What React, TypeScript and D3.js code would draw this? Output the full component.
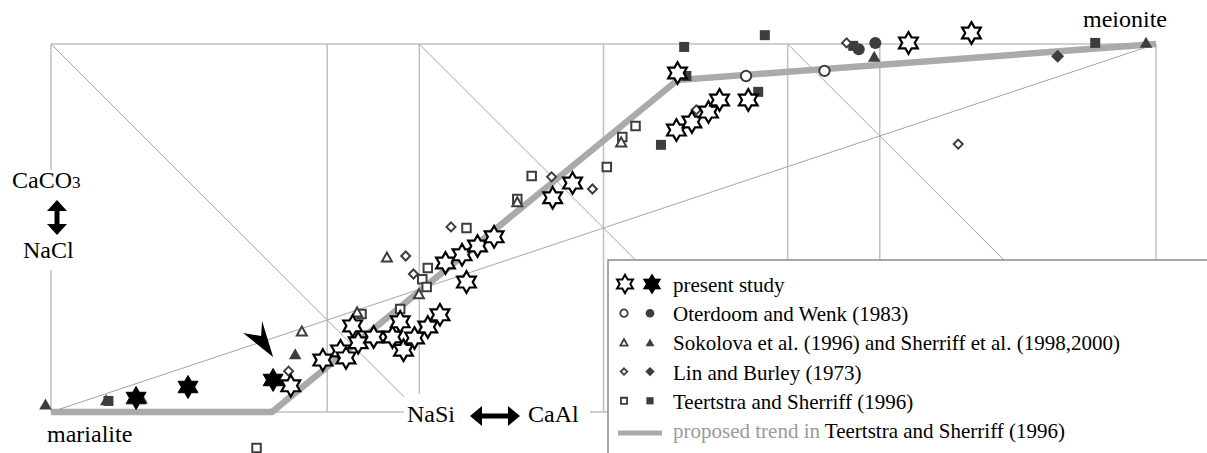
import React from 'react';
import * as d3 from 'd3';

// ---- data (fractions of the NaSi→CaAl (x) and NaCl→CaCO3 (y) frame) ----
const xGrid = [0, 1 / 4, 1 / 3, 1 / 2, 2 / 3, 3 / 4, 1];
const diagonals: [number, number, number, number][] = [
  [0, 1, 1 / 3, 0],
  [1 / 3, 1, 2 / 3, 0],
  [2 / 3, 1, 1, 0],
  [0, 0, 1, 1],
];
const trend: [number, number][] = [[0, 0], [0.2, 0], [0.567, 0.902], [1, 1]];

const starOpen: [number, number][] = [
  [0.217, 0.071], [0.246, 0.141], [0.262, 0.166], [0.267, 0.147], [0.273, 0.234],
  [0.278, 0.188], [0.292, 0.204], [0.309, 0.204], [0.316, 0.245], [0.319, 0.168],
  [0.329, 0.201], [0.341, 0.231], [0.352, 0.264], [0.357, 0.405], [0.372, 0.427],
  [0.386, 0.451], [0.401, 0.476], [0.376, 0.353], [0.454, 0.582], [0.472, 0.622],
  [0.567, 0.921], [0.566, 0.766], [0.580, 0.788], [0.595, 0.815], [0.605, 0.848],
  [0.631, 0.848], [0.776, 1.003], [0.833, 1.030],
];
const starFilled: [number, number][] = [[0.077, 0.038], [0.124, 0.068], [0.201, 0.087]];

const circleOpen: [number, number][] = [[0.629, 0.913], [0.700, 0.927]];
const circleFilled: [number, number][] = [[0.731, 0.986], [0.746, 1.003]];

const triOpen: [number, number][] = [
  [0.227, 0.220], [0.277, 0.272], [0.304, 0.421], [0.333, 0.321], [0.422, 0.571], [0.516, 0.734],
];
const triFilled: [number, number][] = [
  [-0.005, 0.022], [0.050, 0.033], [0.082, 0.038], [0.221, 0.158], [0.745, 0.967], [0.991, 1.005],
];

const diaOpen: [number, number][] = [
  [0.215, 0.111], [0.300, 0.204], [0.321, 0.424], [0.328, 0.375], [0.362, 0.503],
  [0.453, 0.639], [0.490, 0.606], [0.584, 0.821], [0.720, 1.003], [0.821, 0.728],
];
const diaFilled: [number, number][] = [[0.911, 0.967]];

const sqOpen: [number, number][] = [
  [0.186, -0.098], [0.281, 0.266], [0.316, 0.280], [0.336, 0.361], [0.341, 0.391],
  [0.340, 0.340], [0.376, 0.500], [0.422, 0.579], [0.435, 0.641], [0.503, 0.666],
  [0.517, 0.747], [0.529, 0.777],
];
const sqFilled: [number, number][] = [
  [0.052, 0.030], [0.573, 0.992], [0.646, 1.024], [0.575, 0.913], [0.640, 0.870],
  [0.552, 0.726], [0.726, 0.995], [0.945, 1.003],
];

const legendLabels = [
  'present study',
  'Oterdoom and Wenk (1983)',
  'Sokolova et al. (1996) and Sherriff et al. (1998,2000)',
  'Lin and Burley (1973)',
  'Teertstra and Sherriff (1996)',
];

// ---- layout ----
const W = 1207;
const H = 453;
const x = d3.scaleLinear().domain([0, 1]).range([51, 1156]);
const y = d3.scaleLinear().domain([0, 1]).range([412, 44]);

const FONT = '"Liberation Serif"';
const MK = '#3a3f3c';
const GRID = '#c0c0c0';
const DIAG = '#a6a6a6';
const TREND = '#aaaaaa';

function hexagram(R: number): string {
  const r = R / Math.sqrt(3);
  const pts: [number, number][] = [];
  for (let k = 0; k < 12; k++) {
    const a = ((-90 + k * 30) * Math.PI) / 180;
    const rr = k % 2 === 0 ? R : r;
    pts.push([rr * Math.cos(a), rr * Math.sin(a)]);
  }
  return 'M' + pts.map((p) => p[0].toFixed(2) + ',' + p[1].toFixed(2)).join('L') + 'Z';
}
function triangle(w: number, h: number): string {
  return `M${-w / 2},${h / 2}L${w / 2},${h / 2}L0,${-h / 2}Z`;
}
function diamond(s: number): string {
  return `M0,${-s / 2}L${s / 2},0L0,${s / 2}L${-s / 2},0Z`;
}
function square(s: number): string {
  return `M${-s / 2},${-s / 2}h${s}v${s}h${-s}Z`;
}
function circle(r: number): string {
  return `M${-r},0a${r},${r} 0 1,0 ${2 * r},0a${r},${r} 0 1,0 ${-2 * r},0Z`;
}

type Kind = 'star' | 'circle' | 'tri' | 'dia' | 'sq';
function shapePath(kind: Kind, filled: boolean, legend = false): string {
  const f = legend ? 0.72 : 1;
  switch (kind) {
    case 'star':
      return hexagram((filled ? 11.5 : 10.8) * (legend ? 0.85 : 1));
    case 'circle':
      return circle((filled ? 6 : 5.2) * f);
    case 'tri':
      return triangle((filled ? 12.5 : 10) * f, (filled ? 11 : 9) * f);
    case 'dia':
      return diamond((filled ? 13 : 9) * f);
    case 'sq':
      return square((filled ? 10 : 8.5) * f);
  }
}
function styleFor(kind: Kind, filled: boolean) {
  if (kind === 'star') {
    return filled
      ? { fill: '#000', stroke: '#000', strokeWidth: 1 }
      : { fill: '#fff', stroke: '#000', strokeWidth: 2.2 };
  }
  return filled
    ? { fill: MK, stroke: 'none', strokeWidth: 0 }
    : { fill: '#fff', stroke: MK, strokeWidth: 2 };
}

const seriesList: { kind: Kind; filled: boolean; data: [number, number][] }[] = [
  { kind: 'sq', filled: false, data: sqOpen },
  { kind: 'sq', filled: true, data: sqFilled },
  { kind: 'tri', filled: false, data: triOpen },
  { kind: 'tri', filled: true, data: triFilled },
  { kind: 'dia', filled: false, data: diaOpen },
  { kind: 'dia', filled: true, data: diaFilled },
  { kind: 'circle', filled: false, data: circleOpen },
  { kind: 'circle', filled: true, data: circleFilled },
  { kind: 'star', filled: true, data: starFilled },
  { kind: 'star', filled: false, data: starOpen },
];

const legendKinds: Kind[] = ['star', 'circle', 'tri', 'dia', 'sq'];

const txt: React.CSSProperties = { fontFamily: FONT };

export default function App() {
  const line = d3
    .line<[number, number]>()
    .x((d) => x(d[0]))
    .y((d) => y(d[1]));

  // annotation arrow pointing to the last filled star
  const tgt = starFilled[2];
  const tx = x(tgt[0]);
  const ty = y(tgt[1]);
  const arrowPts: [number, number][] = [
    [tx, ty - 23],
    [tx - 11, ty - 59],
    [tx - 12, ty - 44],
    [tx - 30, ty - 47],
  ];

  const LX = 608;
  const LY = 260;
  const rowBase = (i: number) => 292 + i * 29.2;

  return (
    <svg
      width={W}
      height={H}
      viewBox={`0 0 ${W} ${H}`}
      style={{ position: 'absolute', left: 0, top: 0, background: '#fff' }}
    >
      <rect x={0} y={0} width={W} height={H} fill="#fff" />
      {/* frame */}
      <line x1={x(0)} x2={x(1)} y1={y(1)} y2={y(1)} stroke={GRID} strokeWidth={1.5} />
      <line x1={x(0)} x2={x(1)} y1={y(0)} y2={y(0)} stroke={GRID} strokeWidth={1.5} />
      {xGrid.map((g, i) => (
        <line key={i} x1={x(g)} x2={x(g)} y1={y(1)} y2={y(0)} stroke={GRID} strokeWidth={1.5} />
      ))}
      {diagonals.map((d, i) => (
        <line key={i} x1={x(d[0])} y1={y(d[1])} x2={x(d[2])} y2={y(d[3])} stroke={DIAG} strokeWidth={1} />
      ))}

      {/* label backgrounds */}
      <rect x={8} y={170} width={80} height={100} fill="#fff" />
      <rect x={404} y={394} width={186} height={40} fill="#fff" />

      {/* axis labels */}
      <text x={12} y={188} fontSize={24} fill="#000" style={txt}>
        CaCO<tspan fontSize={17}>3</tspan>
      </text>
      <text x={23} y={258} fontSize={24} fill="#000" style={txt}>NaCl</text>
      {/* vertical double arrow */}
      <path
        d={`M57,200 L67,211 L59.5,211 L59.5,224 L67,224 L57,235 L47,224 L54.5,224 L54.5,211 L47,211 Z`}
        fill="#000"
      />
      <text x={407} y={422} fontSize={24} fill="#000" style={txt}>NaSi</text>
      <text x={528} y={422} fontSize={24} fill="#000" style={txt}>CaAl</text>
      {/* horizontal double arrow */}
      <path
        d={`M470,416 L482,406 L482,413.5 L508,413.5 L508,406 L520,416 L508,426 L508,418.5 L482,418.5 L482,426 Z`}
        fill="#000"
      />
      <text x={47} y={442} fontSize={24} fill="#000" style={txt}>marialite</text>
      <text x={1083} y={27} fontSize={24} fill="#000" style={txt}>meionite</text>

      {/* trend */}
      <path d={line(trend) || ''} fill="none" stroke={TREND} strokeWidth={6.5} />

      {/* markers */}
      {seriesList.map((s, si) => (
        <g key={si}>
          {s.data.map((d, i) => (
            <path
              key={i}
              d={shapePath(s.kind, s.filled)}
              transform={`translate(${x(d[0])},${y(d[1])})`}
              {...styleFor(s.kind, s.filled)}
              strokeLinejoin="miter"
            />
          ))}
        </g>
      ))}

      {/* annotation arrow */}
      <path d={'M' + arrowPts.map((p) => p.join(',')).join('L') + 'Z'} fill="#000" />

      {/* legend */}
      <rect x={LX} y={LY} width={W} height={H} fill="#fff" stroke="#8a8a8a" strokeWidth={1.5} />
      {legendKinds.map((k, i) => {
        const cy = rowBase(i) - 8;
        return (
          <g key={k}>
            <path
              d={shapePath(k, false, true)}
              transform={`translate(${k === 'star' ? 625 : 624},${cy})`}
              {...styleFor(k, false)}
              strokeWidth={k === 'star' ? 2 : 1.8}
            />
            <path
              d={shapePath(k, true, true)}
              transform={`translate(${k === 'star' ? 652 : 650},${cy})`}
              {...styleFor(k, true)}
            />
            <text x={673} y={rowBase(i)} fontSize={21} fill="#000" style={txt}>
              {legendLabels[i]}
            </text>
          </g>
        );
      })}
      <line x1={618} x2={662} y1={rowBase(5) - 5} y2={rowBase(5) - 5} stroke={TREND} strokeWidth={5} />
      <text x={673} y={rowBase(5)} fontSize={21} fill="#000" style={txt}>
        <tspan fill="#9a9a9a">proposed trend in </tspan>
        Teertstra and Sherriff (1996)
      </text>
    </svg>
  );
}
